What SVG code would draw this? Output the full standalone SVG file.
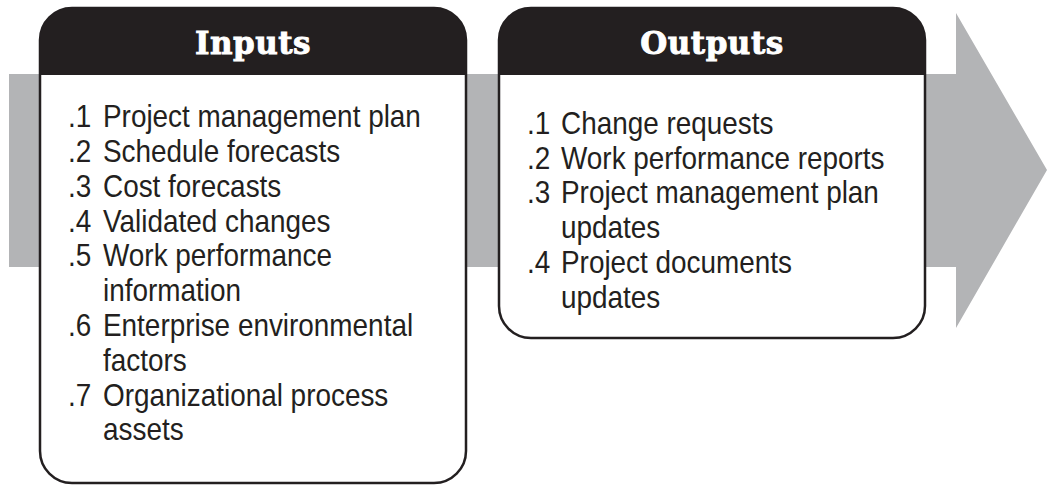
<svg xmlns="http://www.w3.org/2000/svg" width="1047" height="485" viewBox="0 0 1047 485">
<style>
.box{fill:#fff;stroke:#231f20;stroke-width:2.5}
.hdr{fill:#231f20}
.ht{font-family:"DejaVu Serif",serif;font-weight:bold;font-size:31px;fill:#fff;stroke:#fff;stroke-width:0.9;text-anchor:middle;letter-spacing:0.5px}
.t{font-family:"Liberation Sans",sans-serif;font-size:31px;fill:#231f20}
</style>
<g id="arrow">
<polygon points="9,74 956,74 956,13 1047,170 956,328 956,267 9,267" fill="#b3b4b6"/>
</g>
<g id="inputs">
<path class="box" d="M40,40 a32,32 0 0 1 32,-32 H434 a32,32 0 0 1 32,32 V451 a32,32 0 0 1 -32,32 H72 a32,32 0 0 1 -32,-32 Z"/>
<path class="hdr" d="M40,75 V40 a32,32 0 0 1 32,-32 H434 a32,32 0 0 1 32,32 V75 Z"/>
<text class="ht" x="253" y="54">Inputs</text>
<g transform="translate(68,0) scale(0.9,1)">
<text class="t" x="0" y="127">.1</text>
<text class="t" x="0" y="162">.2</text>
<text class="t" x="0" y="197">.3</text>
<text class="t" x="0" y="232">.4</text>
<text class="t" x="0" y="266">.5</text>
<text class="t" x="0" y="336">.6</text>
<text class="t" x="0" y="406">.7</text>
</g>
<g transform="translate(103,0) scale(0.9,1)">
<text class="t" x="0" y="127">Project management plan</text>
<text class="t" x="0" y="162">Schedule forecasts</text>
<text class="t" x="0" y="197">Cost forecasts</text>
<text class="t" x="0" y="232">Validated changes</text>
<text class="t" x="0" y="266">Work performance</text>
<text class="t" x="0" y="301">information</text>
<text class="t" x="0" y="336">Enterprise environmental</text>
<text class="t" x="0" y="371">factors</text>
<text class="t" x="0" y="406">Organizational process</text>
<text class="t" x="0" y="440">assets</text>
</g>
</g>
<g id="outputs">
<path class="box" d="M499,40 a32,32 0 0 1 32,-32 H893 a32,32 0 0 1 32,32 V306 a32,32 0 0 1 -32,32 H531 a32,32 0 0 1 -32,-32 Z"/>
<path class="hdr" d="M499,75 V40 a32,32 0 0 1 32,-32 H893 a32,32 0 0 1 32,32 V75 Z"/>
<text class="ht" x="712" y="54">Outputs</text>
<g transform="translate(527,0) scale(0.9,1)">
<text class="t" x="0" y="134">.1</text>
<text class="t" x="0" y="169">.2</text>
<text class="t" x="0" y="203">.3</text>
<text class="t" x="0" y="273">.4</text>
</g>
<g transform="translate(561,0) scale(0.9,1)">
<text class="t" x="0" y="134">Change requests</text>
<text class="t" x="0" y="169">Work performance reports</text>
<text class="t" x="0" y="203">Project management plan</text>
<text class="t" x="0" y="238">updates</text>
<text class="t" x="0" y="273">Project documents</text>
<text class="t" x="0" y="308">updates</text>
</g>
</g>
</svg>
